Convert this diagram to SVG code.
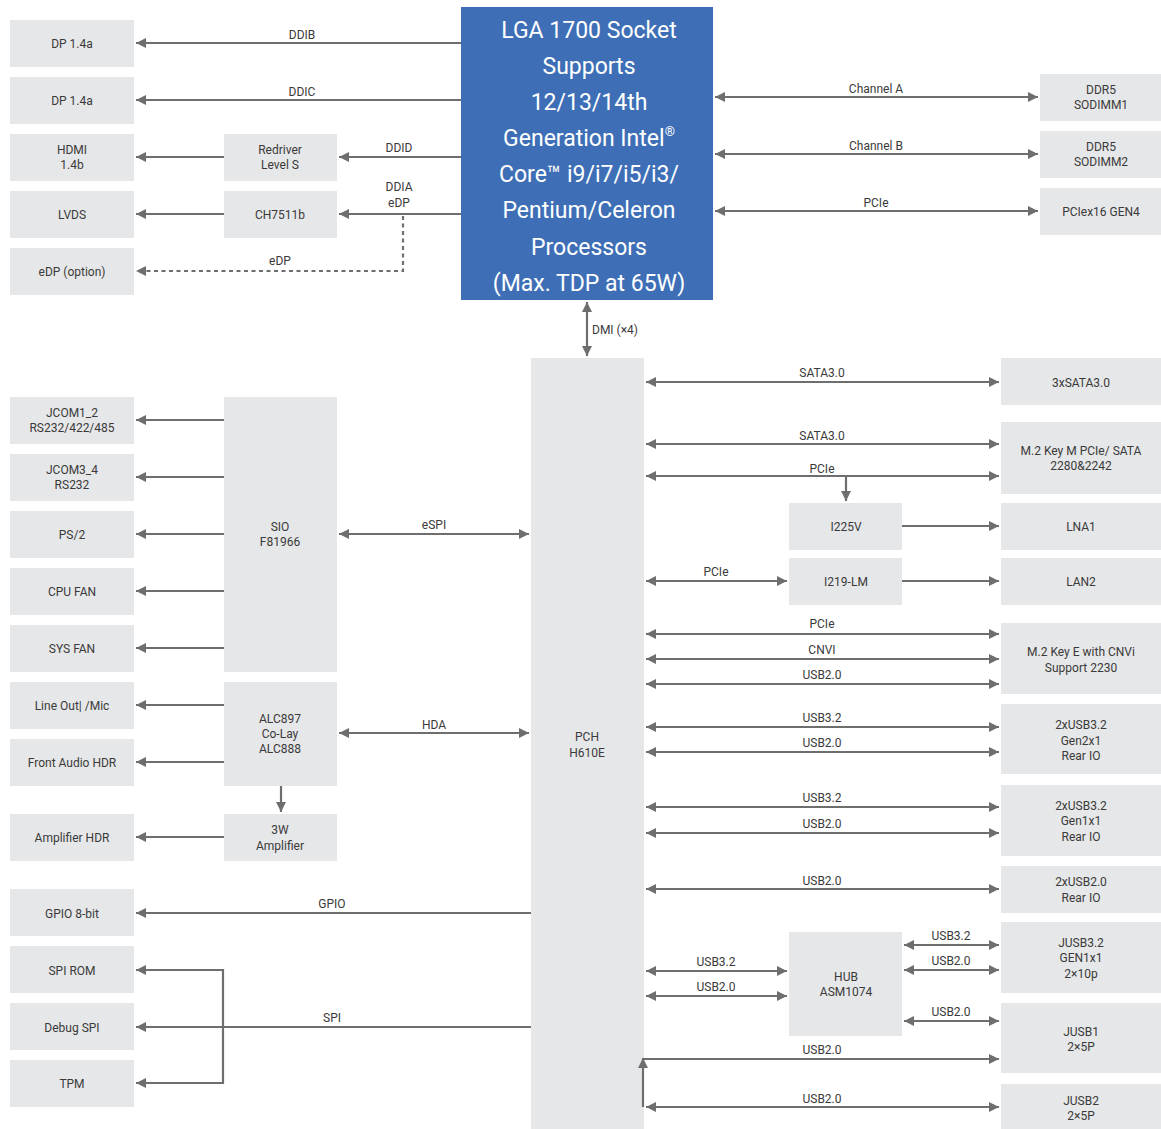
<svg xmlns="http://www.w3.org/2000/svg" width="1161" height="1129" viewBox="0 0 1161 1129">
<style>
.box{fill:#e6e7e8}
.t{font-family:Roboto,"Liberation Sans",sans-serif;font-size:12px;fill:#3a3a3a;text-anchor:middle;dominant-baseline:central}
.c{stroke:#6e6e6e;stroke-width:2.2;fill:none}
.cpu{fill:#3e6fb6}
.ct{font-family:Roboto,"Liberation Sans",sans-serif;font-size:23px;fill:#ffffff;text-anchor:middle;dominant-baseline:central}
.sup{font-size:13px}
</style>
<defs>
<marker id="ah" viewBox="0 0 10 10" refX="10" refY="5" markerWidth="11" markerHeight="10" markerUnits="userSpaceOnUse" orient="auto-start-reverse">
<path d="M0,0 L10,5 L0,10 z" fill="#6e6e6e"/>
</marker>
</defs>
<rect width="1161" height="1129" fill="#ffffff"/>

<g id="cpu"><rect class="cpu" x="461" y="7" width="252" height="293"/>
<text class="ct" x="589" y="30">LGA 1700 Socket</text>
<text class="ct" x="589" y="66">Supports</text>
<text class="ct" x="589" y="102">12/13/14th</text>
<text class="ct" x="589" y="138">Generation Intel<tspan class="sup" dy="-7">®</tspan></text>
<text class="ct" x="589" y="174">Core™ i9/i7/i5/i3/</text>
<text class="ct" x="589" y="210">Pentium/Celeron</text>
<text class="ct" x="589" y="247">Processors</text>
<text class="ct" x="589" y="283">(Max. TDP at 65W)</text></g>

<g id="pch"><rect class="box" x="531" y="358" width="113" height="771"/><text class="t" x="587" y="737">PCH</text><text class="t" x="587" y="753">H610E</text></g>

<g id="dp1"><rect class="box" x="10" y="20" width="124" height="47"/><text class="t" x="72" y="44">DP 1.4a</text></g>
<g id="dp2"><rect class="box" x="10" y="77" width="124" height="47"/><text class="t" x="72" y="101">DP 1.4a</text></g>
<g id="hdmi"><rect class="box" x="10" y="134" width="124" height="47"/><text class="t" x="72" y="150">HDMI</text><text class="t" x="72" y="165">1.4b</text></g>
<g id="lvds"><rect class="box" x="10" y="191" width="124" height="47"/><text class="t" x="72" y="215">LVDS</text></g>
<g id="edp"><rect class="box" x="10" y="248" width="124" height="47"/><text class="t" x="72" y="272">eDP (option)</text></g>
<g id="redriver"><rect class="box" x="224" y="134" width="113" height="47"/><text class="t" x="280" y="150">Redriver</text><text class="t" x="280" y="165">Level S</text></g>
<g id="ch7511b"><rect class="box" x="224" y="191" width="113" height="47"/><text class="t" x="280" y="215">CH7511b</text></g>

<g id="ddr1"><rect class="box" x="1040" y="74" width="121" height="47"/><text class="t" x="1101" y="90">DDR5</text><text class="t" x="1101" y="105">SODIMM1</text></g>
<g id="ddr2"><rect class="box" x="1040" y="131" width="121" height="47"/><text class="t" x="1101" y="147">DDR5</text><text class="t" x="1101" y="162">SODIMM2</text></g>
<g id="pciex16"><rect class="box" x="1040" y="188" width="121" height="47"/><text class="t" x="1101" y="212">PCIex16 GEN4</text></g>

<g id="jcom12"><rect class="box" x="10" y="397" width="124" height="47"/><text class="t" x="72" y="413">JCOM1_2</text><text class="t" x="72" y="428">RS232/422/485</text></g>
<g id="jcom34"><rect class="box" x="10" y="454" width="124" height="47"/><text class="t" x="72" y="470">JCOM3_4</text><text class="t" x="72" y="485">RS232</text></g>
<g id="ps2"><rect class="box" x="10" y="511" width="124" height="47"/><text class="t" x="72" y="535">PS/2</text></g>
<g id="cpufan"><rect class="box" x="10" y="568" width="124" height="47"/><text class="t" x="72" y="592">CPU FAN</text></g>
<g id="sysfan"><rect class="box" x="10" y="625" width="124" height="47"/><text class="t" x="72" y="649">SYS FAN</text></g>
<g id="sio"><rect class="box" x="224" y="397" width="113" height="275"/><text class="t" x="280" y="527">SIO</text><text class="t" x="280" y="542">F81966</text></g>

<g id="lineout"><rect class="box" x="10" y="682" width="124" height="47"/><text class="t" x="72" y="706">Line Out| /Mic</text></g>
<g id="frontaudio"><rect class="box" x="10" y="739" width="124" height="47"/><text class="t" x="72" y="763">Front Audio HDR</text></g>
<g id="alc"><rect class="box" x="224" y="682" width="113" height="104"/><text class="t" x="280" y="719">ALC897</text><text class="t" x="280" y="734">Co-Lay</text><text class="t" x="280" y="749">ALC888</text></g>
<g id="amp"><rect class="box" x="224" y="814" width="113" height="47"/><text class="t" x="280" y="830">3W</text><text class="t" x="280" y="846">Amplifier</text></g>
<g id="amphdr"><rect class="box" x="10" y="814" width="124" height="47"/><text class="t" x="72" y="838">Amplifier HDR</text></g>

<g id="gpio"><rect class="box" x="10" y="889" width="124" height="47"/><text class="t" x="72" y="914">GPIO 8-bit</text></g>
<g id="spirom"><rect class="box" x="10" y="946" width="124" height="47"/><text class="t" x="72" y="971">SPI ROM</text></g>
<g id="debugspi"><rect class="box" x="10" y="1003" width="124" height="47"/><text class="t" x="72" y="1028">Debug SPI</text></g>
<g id="tpm"><rect class="box" x="10" y="1060" width="124" height="47"/><text class="t" x="72" y="1084">TPM</text></g>

<g id="sata3x"><rect class="box" x="1001" y="358" width="160" height="47"/><text class="t" x="1081" y="383">3xSATA3.0</text></g>
<g id="m2m"><rect class="box" x="1001" y="422" width="160" height="72"/><text class="t" x="1081" y="451">M.2 Key M PCIe/ SATA</text><text class="t" x="1081" y="466">2280&amp;2242</text></g>
<g id="i225v"><rect class="box" x="789" y="503" width="113" height="47"/><text class="t" x="846" y="527">I225V</text></g>
<g id="lna1"><rect class="box" x="1001" y="503" width="160" height="47"/><text class="t" x="1081" y="527">LNA1</text></g>
<g id="i219"><rect class="box" x="789" y="558" width="113" height="47"/><text class="t" x="846" y="582">I219-LM</text></g>
<g id="lan2"><rect class="box" x="1001" y="558" width="160" height="47"/><text class="t" x="1081" y="582">LAN2</text></g>
<g id="m2e"><rect class="box" x="1001" y="623" width="160" height="71"/><text class="t" x="1081" y="652">M.2 Key E with CNVi</text><text class="t" x="1081" y="668">Support 2230</text></g>
<g id="usb32g2"><rect class="box" x="1001" y="704" width="160" height="70"/><text class="t" x="1081" y="725">2xUSB3.2</text><text class="t" x="1081" y="741">Gen2x1</text><text class="t" x="1081" y="756">Rear IO</text></g>
<g id="usb32g1"><rect class="box" x="1001" y="785" width="160" height="71"/><text class="t" x="1081" y="806">2xUSB3.2</text><text class="t" x="1081" y="821">Gen1x1</text><text class="t" x="1081" y="837">Rear IO</text></g>
<g id="usb20"><rect class="box" x="1001" y="866" width="160" height="47"/><text class="t" x="1081" y="882">2xUSB2.0</text><text class="t" x="1081" y="898">Rear IO</text></g>
<g id="jusb32"><rect class="box" x="1001" y="922" width="160" height="71"/><text class="t" x="1081" y="943">JUSB3.2</text><text class="t" x="1081" y="958">GEN1x1</text><text class="t" x="1081" y="974">2×10p</text></g>
<g id="hub"><rect class="box" x="789" y="932" width="113" height="104"/><text class="t" x="846" y="977">HUB</text><text class="t" x="846" y="992">ASM1074</text></g>
<g id="jusb1"><rect class="box" x="1001" y="1003" width="160" height="70"/><text class="t" x="1081" y="1032">JUSB1</text><text class="t" x="1081" y="1047">2×5P</text></g>
<g id="jusb2"><rect class="box" x="1001" y="1084" width="160" height="47"/><text class="t" x="1081" y="1101">JUSB2</text><text class="t" x="1081" y="1116">2×5P</text></g>

<g id="connectors">
<path class="c" d="M461,43 H136" marker-end="url(#ah)"/>
<path class="c" d="M461,100 H136" marker-end="url(#ah)"/>
<path class="c" d="M461,157 H339" marker-end="url(#ah)"/>
<path class="c" d="M224,157 H136" marker-end="url(#ah)"/>
<path class="c" d="M461,214 H339" marker-end="url(#ah)"/>
<path class="c" d="M224,214 H136" marker-end="url(#ah)"/>
<path class="c" d="M403,216 V271 H136" stroke-dasharray="4,3.5" marker-end="url(#ah)"/>
<text class="t" x="302" y="35">DDIB</text>
<text class="t" x="302" y="92">DDIC</text>
<text class="t" x="399" y="148">DDID</text>
<text class="t" x="399" y="187">DDIA</text>
<text class="t" x="399" y="203">eDP</text>
<text class="t" x="280" y="261">eDP</text>

<path class="c" d="M715,97 H1038" marker-start="url(#ah)" marker-end="url(#ah)"/>
<path class="c" d="M715,154 H1038" marker-start="url(#ah)" marker-end="url(#ah)"/>
<path class="c" d="M715,211 H1038" marker-start="url(#ah)" marker-end="url(#ah)"/>
<text class="t" x="876" y="89">Channel A</text>
<text class="t" x="876" y="146">Channel B</text>
<text class="t" x="876" y="203">PCIe</text>

<path class="c" d="M587,302 V356" marker-start="url(#ah)" marker-end="url(#ah)"/>
<text class="t" x="592" y="330" style="text-anchor:start">DMI (×4)</text>

<path class="c" d="M224,420 H136" marker-end="url(#ah)"/>
<path class="c" d="M224,477 H136" marker-end="url(#ah)"/>
<path class="c" d="M224,534 H136" marker-end="url(#ah)"/>
<path class="c" d="M224,591 H136" marker-end="url(#ah)"/>
<path class="c" d="M224,648 H136" marker-end="url(#ah)"/>
<path class="c" d="M339,534 H529" marker-start="url(#ah)" marker-end="url(#ah)"/>
<text class="t" x="434" y="525">eSPI</text>

<path class="c" d="M224,705 H136" marker-end="url(#ah)"/>
<path class="c" d="M224,762 H136" marker-end="url(#ah)"/>
<path class="c" d="M339,733 H529" marker-start="url(#ah)" marker-end="url(#ah)"/>
<text class="t" x="434" y="725">HDA</text>
<path class="c" d="M281,786 V812" marker-end="url(#ah)"/>
<path class="c" d="M224,837 H136" marker-end="url(#ah)"/>

<path class="c" d="M531,913 H136" marker-end="url(#ah)"/>
<text class="t" x="332" y="904">GPIO</text>
<path class="c" d="M531,1027 H136" marker-end="url(#ah)"/>
<path class="c" d="M136,970 H223 V1083 H136" marker-start="url(#ah)" marker-end="url(#ah)"/>
<text class="t" x="332" y="1018">SPI</text>

<path class="c" d="M646,382 H999" marker-start="url(#ah)" marker-end="url(#ah)"/>
<text class="t" x="822" y="373">SATA3.0</text>
<path class="c" d="M646,444 H999" marker-start="url(#ah)" marker-end="url(#ah)"/>
<text class="t" x="822" y="436">SATA3.0</text>
<path class="c" d="M646,476 H999" marker-start="url(#ah)" marker-end="url(#ah)"/>
<text class="t" x="822" y="469">PCIe</text>
<path class="c" d="M846,476 V501" marker-end="url(#ah)"/>
<path class="c" d="M902,526 H999" marker-end="url(#ah)"/>
<path class="c" d="M646,581 H787" marker-start="url(#ah)" marker-end="url(#ah)"/>
<text class="t" x="716" y="572">PCIe</text>
<path class="c" d="M902,581 H999" marker-end="url(#ah)"/>
<path class="c" d="M646,634 H999" marker-start="url(#ah)" marker-end="url(#ah)"/>
<text class="t" x="822" y="624">PCIe</text>
<path class="c" d="M646,659 H999" marker-start="url(#ah)" marker-end="url(#ah)"/>
<text class="t" x="822" y="650">CNVI</text>
<path class="c" d="M646,684 H999" marker-start="url(#ah)" marker-end="url(#ah)"/>
<text class="t" x="822" y="675">USB2.0</text>
<path class="c" d="M646,727 H999" marker-start="url(#ah)" marker-end="url(#ah)"/>
<text class="t" x="822" y="718">USB3.2</text>
<path class="c" d="M646,752 H999" marker-start="url(#ah)" marker-end="url(#ah)"/>
<text class="t" x="822" y="743">USB2.0</text>
<path class="c" d="M646,807 H999" marker-start="url(#ah)" marker-end="url(#ah)"/>
<text class="t" x="822" y="798">USB3.2</text>
<path class="c" d="M646,833 H999" marker-start="url(#ah)" marker-end="url(#ah)"/>
<text class="t" x="822" y="824">USB2.0</text>
<path class="c" d="M646,889 H999" marker-start="url(#ah)" marker-end="url(#ah)"/>
<text class="t" x="822" y="881">USB2.0</text>

<path class="c" d="M646,971 H787" marker-start="url(#ah)" marker-end="url(#ah)"/>
<text class="t" x="716" y="962">USB3.2</text>
<path class="c" d="M646,996 H787" marker-start="url(#ah)" marker-end="url(#ah)"/>
<text class="t" x="716" y="987">USB2.0</text>
<path class="c" d="M904,945 H999" marker-start="url(#ah)" marker-end="url(#ah)"/>
<text class="t" x="951" y="936">USB3.2</text>
<path class="c" d="M904,970 H999" marker-start="url(#ah)" marker-end="url(#ah)"/>
<text class="t" x="951" y="961">USB2.0</text>
<path class="c" d="M904,1021 H999" marker-start="url(#ah)" marker-end="url(#ah)"/>
<text class="t" x="951" y="1012">USB2.0</text>

<path class="c" d="M643,1107 V1058" marker-end="url(#ah)"/>
<path class="c" d="M643,1059 H999" marker-end="url(#ah)"/>
<text class="t" x="822" y="1050">USB2.0</text>
<path class="c" d="M646,1107 H999" marker-start="url(#ah)" marker-end="url(#ah)"/>
<text class="t" x="822" y="1099">USB2.0</text>
</g>
</svg>
